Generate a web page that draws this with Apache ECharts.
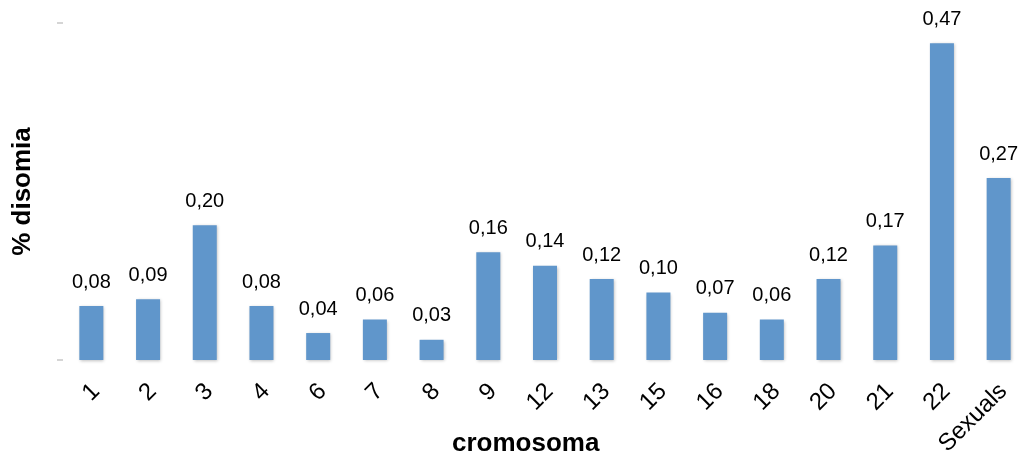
<!DOCTYPE html>
<html>
<head>
<meta charset="utf-8">
<script src="https://cdn.jsdelivr.net/npm/echarts@6/dist/echarts.min.js"></script>
<style>
  html, body { margin: 0; padding: 0; background: #ffffff; }
  #chart { width: 1027px; height: 459px; }
</style>
</head>
<body>
<div id="chart"></div>
<script>
// Chromosome categories and disomy percentages
const categories = ['1', '2', '3', '4', '6', '7', '8', '9', '12', '13', '15', '16', '18', '20', '21', '22', 'Sexuals'];
const disomia = [0.08, 0.09, 0.20, 0.08, 0.04, 0.06, 0.03, 0.16, 0.14, 0.12, 0.10, 0.07, 0.06, 0.12, 0.17, 0.47, 0.27];

const chart = echarts.init(document.getElementById('chart'), null, { renderer: 'canvas' });

const FONT = '"Liberation Sans", Arial, sans-serif';

chart.setOption({
  animation: false,
  backgroundColor: '#ffffff',
  grid: { left: 63, top: 23, width: 969, height: 337, containLabel: false },
  xAxis: {
    type: 'category',
    data: categories,
    axisLine: { show: false },
    axisTick: { show: false },
    axisLabel: {
      rotate: 45,
      margin: 23,
      interval: 0,
      verticalAlign: 'top',
      lineHeight: 13,
      color: '#000000',
      fontFamily: FONT,
      fontSize: 24
    }
  },
  yAxis: {
    type: 'value',
    min: 0,
    max: 0.5,
    interval: 0.5,
    name: '% disomia',
    nameLocation: 'middle',
    nameGap: 27,
    nameTextStyle: { fontFamily: FONT, fontSize: 26, fontWeight: 'bold', color: '#000000' },
    axisLine: { show: false },
    axisLabel: { show: false },
    axisTick: { show: true, length: 6, lineStyle: { color: '#c8c8c8', width: 1.5 } },
    splitLine: { show: false }
  },
  graphic: [{
    type: 'text',
    left: 452,
    top: 431,
    style: {
      text: 'cromosoma',
      fill: '#000000',
      font: 'bold 26px ' + FONT
    }
  }],
  series: [{
    type: 'bar',
    data: disomia,
    barWidth: 24,
    itemStyle: {
      color: '#6096cb',
      shadowColor: 'rgba(0,0,0,0.25)',
      shadowBlur: 3,
      shadowOffsetX: 1,
      shadowOffsetY: 1
    },
    label: {
      show: true,
      position: 'top',
      distance: 14,
      color: '#000000',
      fontFamily: FONT,
      fontSize: 20,
      formatter: p => p.value.toFixed(2).replace('.', ',')
    }
  }]
});
</script>
</body>
</html>
